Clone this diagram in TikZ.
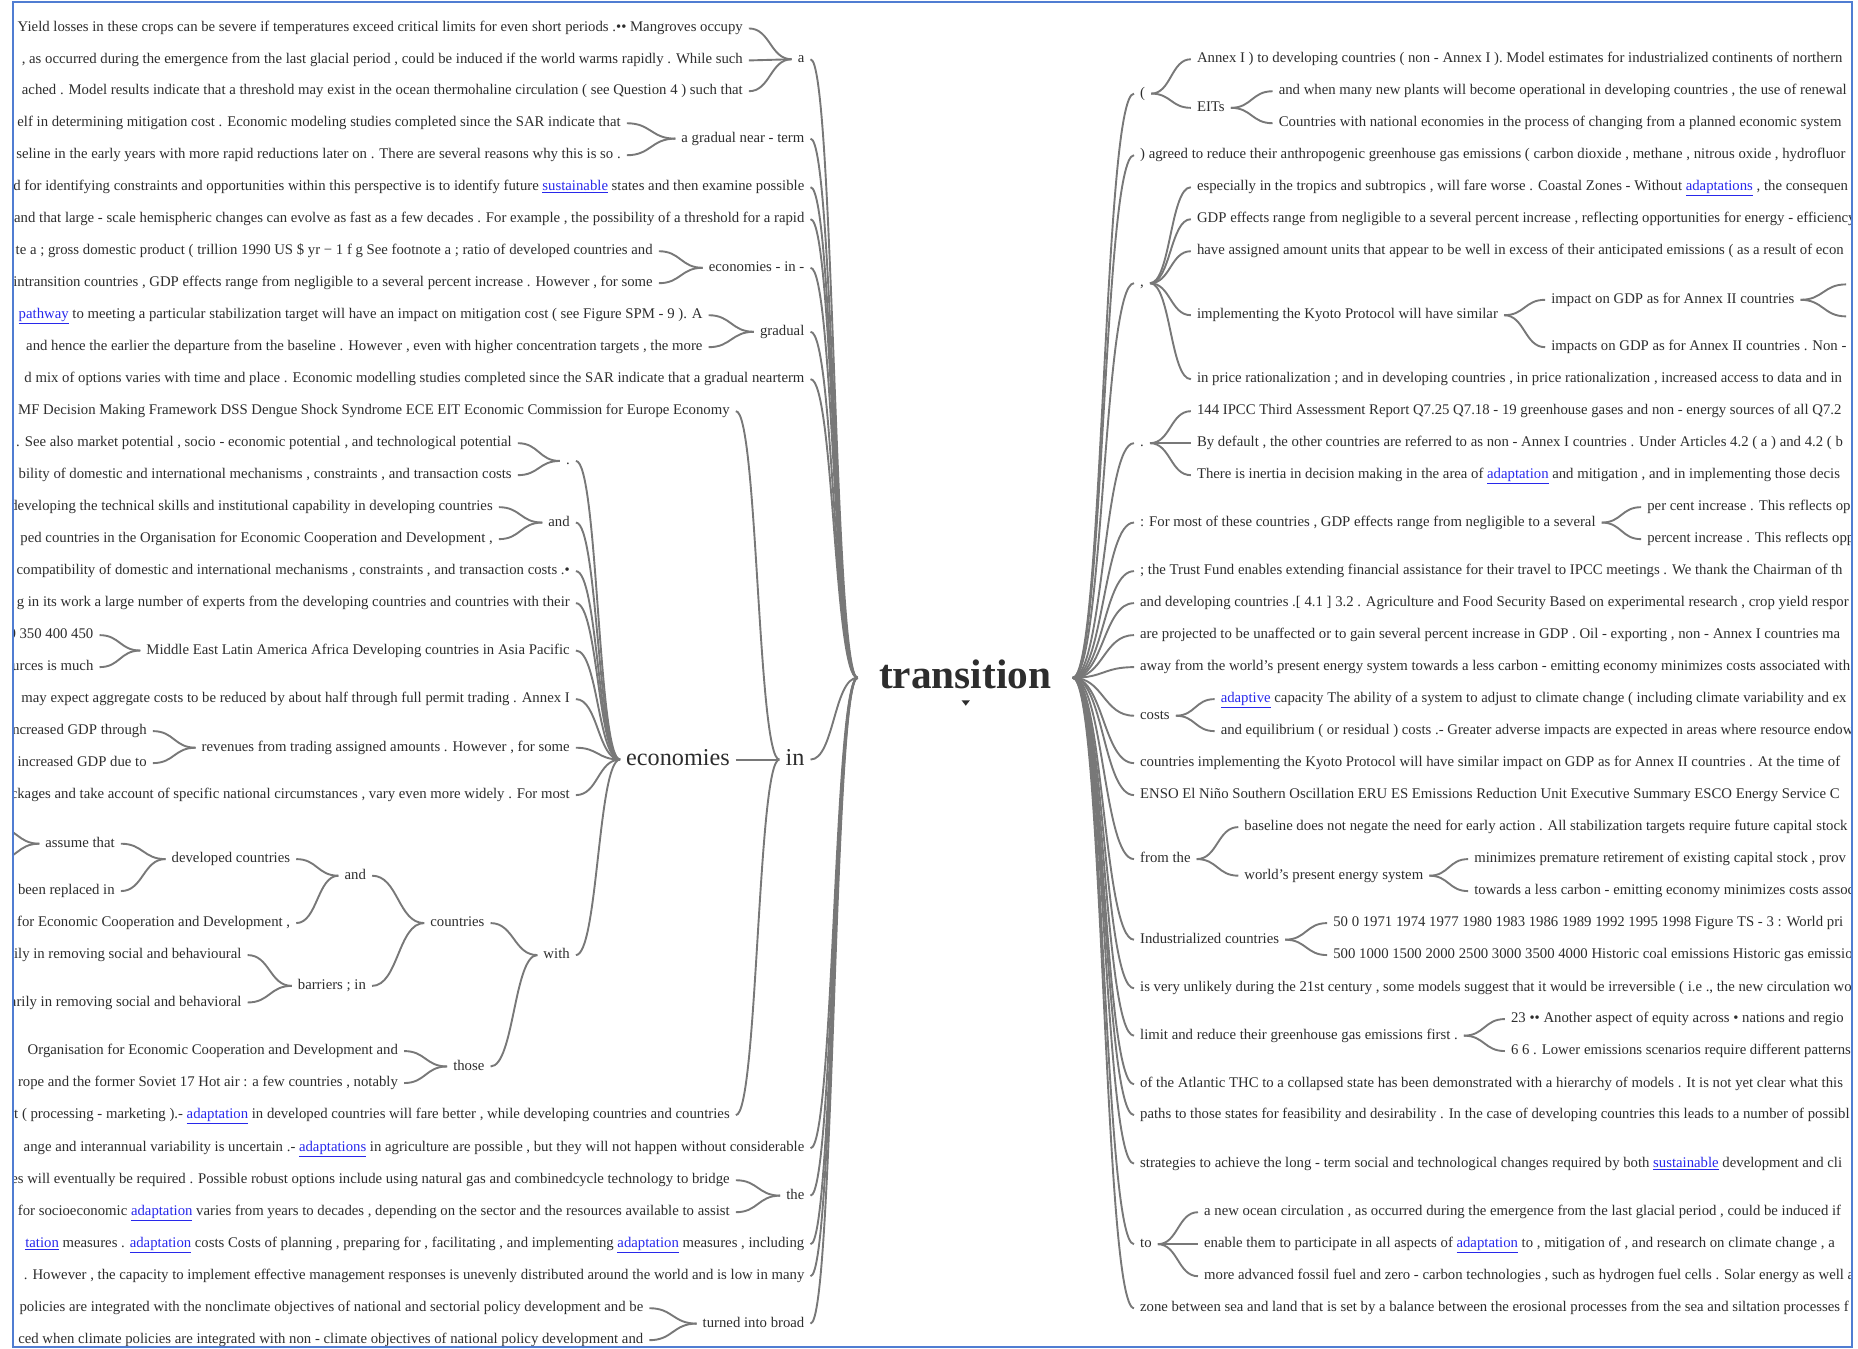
\documentclass[tikz,border=0pt]{standalone}
\usepackage{fontspec}
\setmainfont{Liberation Serif}
\usetikzlibrary{calc}
\definecolor{txt}{RGB}{45,45,45}
\definecolor{linkgray}{RGB}{120,120,120}
\definecolor{hyper}{RGB}{40,40,235}
\definecolor{framec}{RGB}{80,125,210}
% hyperlinked word
\newcommand\hw[1]{\textcolor{hyper}{\underline{#1}}}
% word-tree connector: horizontal tangents at both ends, bend at mid x
\newcommand\wlink[2]{\draw[edge line] let \p1=(#1), \p2=(#2) in (\p1) .. controls ({0.5*(\x1+\x2)},\y1) and ({0.5*(\x1+\x2)},\y2) .. (\p2);}
\tikzset{
  word/.style={font=\fontsize{12.5}{14}\selectfont, text=txt, inner xsep=5bp, inner ysep=0bp, text height=8.6bp, text depth=2.6bp},
  lw/.style={word, anchor=east},
  rw/.style={word, anchor=west},
  big/.style={font=\fontsize{20.5}{24}\selectfont, text=txt, inner xsep=5bp, inner ysep=0bp, text height=14.4bp, text depth=4.1bp, anchor=east},
  rootword/.style={font=\fontsize{35}{40}\selectfont\bfseries, text=txt, inner xsep=18bp, inner ysep=0bp, text height=24.5bp, text depth=7bp},
  edge line/.style={draw=linkgray, line width=1.6bp},
  borderline/.style={draw=framec, line width=1.5bp}
}
\begin{document}
\begin{tikzpicture}[x=1bp,y=-1bp]
\useasboundingbox (0,0) rectangle (1568,1138);
\begin{scope}
\clip (11,1.5) rectangle (1563,1136.5);

% ---------- root ----------
\node[rootword] (tr) at (814.5,572) {transition};
\fill[txt] (811.5,591) -- (818.5,591) -- (815,595.5) -- cycle;

% ---------- left branch: depth 1 ----------
\node[lw] (a) at (684,50) {a};
\node[lw] (agnt) at (684,117) {a gradual near - term};
\node[lw] (l6) at (684,158) {d for identifying constraints and opportunities within this perspective is to identify future \hw{sustainable} states and then examine possible};
\node[lw] (l7) at (684,185) {and that large - scale hemispheric changes can evolve as fast as a few decades . For example , the possibility of a threshold for a rapid};
\node[lw] (eii) at (684,226) {economies - in -};
\node[lw] (grad) at (684,280) {gradual};
\node[lw] (l12) at (684,320) {d mix of options varies with time and place . Economic modelling studies completed since the SAR indicate that a gradual nearterm};
\node[big] (in) at (684,641) {in};
\node[lw] (l28) at (684,969) {ange and interannual variability is uncertain .- \hw{adaptations} in agriculture are possible , but they will not happen without considerable};
\node[lw] (the) at (684,1009) {the};
\node[lw] (l31) at (684,1050) {\hw{tation} measures . \hw{adaptation} costs Costs of planning , preparing for , facilitating , and implementing \hw{adaptation} measures , including};
\node[lw] (l32) at (684,1077) {. However , the capacity to implement effective management responses is unevenly distributed around the world and is low in many};
\node[lw] (tib) at (684,1117) {turned into broad};

% ---------- left branch: deeper ----------
\node[lw] (l1) at (632,24) {. Yield losses in these crops can be severe if temperatures exceed critical limits for even short periods .•• Mangroves occupy};
\node[lw] (l2) at (632,51) {, as occurred during the emergence from the last glacial period , could be induced if the world warms rapidly . While such};
\node[lw] (l3) at (632,77) {ached . Model results indicate that a threshold may exist in the ocean thermohaline circulation ( see Question 4 ) such that};
\node[lw] (l4) at (529,104) {elf in determining mitigation cost . Economic modeling studies completed since the SAR indicate that};
\node[lw] (l5) at (529,131) {seline in the early years with more rapid reductions later on . There are several reasons why this is so .};
\node[lw] (l8) at (556,212) {te a ; gross domestic product ( trillion 1990 US \$ yr − 1 f g See footnote a ; ratio of developed countries and};
\node[lw] (l9) at (556,239) {intransition countries , GDP effects range from negligible to a several percent increase . However , for some};
\node[lw] (l10) at (598,266) {\hw{pathway} to meeting a particular stabilization target will have an impact on mitigation cost ( see Figure SPM - 9 ). A};
\node[lw] (l11) at (598,293) {and hence the earlier the departure from the baseline . However , even with higher concentration targets , the more};
\node[lw] (l13) at (621,347) {MF Decision Making Framework DSS Dengue Shock Syndrome ECE EIT Economic Commission for Europe Economy};
\node[big] (econ) at (621,641) {economies};
\node[lw] (l27) at (621,941) {t ( processing - marketing ).- \hw{adaptation} in developed countries will fare better , while developing countries and countries};

\node[lw] (dot) at (486,389) {.};
\node[lw] (l14) at (437,374) {. See also market potential , socio - economic potential , and technological potential};
\node[lw] (l15) at (437,401) {bility of domestic and international mechanisms , constraints , and transaction costs};
\node[lw] (and1) at (486,441) {and};
\node[lw] (l16) at (421,428) {developing the technical skills and institutional capability in developing countries};
\node[lw] (l17) at (421,455) {ped countries in the Organisation for Economic Cooperation and Development ,};
\node[lw] (l18) at (486,482) {compatibility of domestic and international mechanisms , constraints , and transaction costs .•};
\node[lw] (l19) at (486,509) {g in its work a large number of experts from the developing countries and countries with their};
\node[lw] (mea) at (486,549) {Middle East Latin America Africa Developing countries in Asia Pacific};
\node[lw] (l20) at (84,536) {0 350 400 450};
\node[lw] (l21) at (84,563) {urces is much};
\node[lw] (l22) at (486,590) {may expect aggregate costs to be reduced by about half through full permit trading . Annex I};
\node[lw] (rev) at (486,631) {revenues from trading assigned amounts . However , for some};
\node[lw] (l23) at (129,617) {ncreased GDP through};
\node[lw] (l24) at (129,644) {increased GDP due to};
\node[lw] (l25) at (486,671) {ckages and take account of specific national circumstances , vary even more widely . For most};
\node[lw] (with) at (486,806) {with};
\node[lw] (ctry) at (414,779) {countries};
\node[lw] (those) at (414,900) {those};
\node[lw] (and2) at (314,739) {and};
\node[lw] (barr) at (314,832) {barriers ; in};
\node[lw] (devc) at (250,725) {developed countries};
\node[lw] (oecd1) at (250,779) {for Economic Cooperation and Development ,};
\node[lw] (assu) at (102,712) {assume that};
\node[lw] (been) at (102,752) {been replaced in};
\coordinate (assuA) at (-4,698);
\coordinate (assuB) at (-4,726);
\node[lw] (beh1) at (209,806) {ily in removing social and behavioural};
\node[lw] (beh2) at (209,846) {arily in removing social and behavioral};
\node[lw] (oecd2) at (341,887) {Organisation for Economic Cooperation and Development and};
\node[lw] (sov) at (341,914) {rope and the former Soviet 17 Hot air : a few countries , notably};
\node[lw] (l29) at (621,996) {es will eventually be required . Possible robust options include using natural gas and combinedcycle technology to bridge};
\node[lw] (l30) at (621,1023) {for socioeconomic \hw{adaptation} varies from years to decades , depending on the sector and the resources available to assist};
\node[lw] (l33) at (548,1104) {policies are integrated with the nonclimate objectives of national and sectorial policy development and be};
\node[lw] (l34) at (548,1131) {ced when climate policies are integrated with non - climate objectives of national policy development and};

% ---------- left connectors ----------
\foreach \c in {a,agnt,l6,l7,eii,grad,l12,in,l28,the,l31,l32,tib} {\wlink{\c.east}{tr.west}}
\foreach \c in {l1,l2,l3} {\wlink{\c.east}{a.west}}
\foreach \c in {l4,l5} {\wlink{\c.east}{agnt.west}}
\foreach \c in {l8,l9} {\wlink{\c.east}{eii.west}}
\foreach \c in {l10,l11} {\wlink{\c.east}{grad.west}}
\foreach \c in {l13,econ,l27} {\wlink{\c.east}{in.west}}
\foreach \c in {dot,and1,l18,l19,mea,l22,rev,l25,with} {\wlink{\c.east}{econ.west}}
\foreach \c in {l14,l15} {\wlink{\c.east}{dot.west}}
\foreach \c in {l16,l17} {\wlink{\c.east}{and1.west}}
\foreach \c in {l20,l21} {\wlink{\c.east}{mea.west}}
\foreach \c in {l23,l24} {\wlink{\c.east}{rev.west}}
\foreach \c in {ctry,those} {\wlink{\c.east}{with.west}}
\foreach \c in {and2,barr} {\wlink{\c.east}{ctry.west}}
\foreach \c in {devc,oecd1} {\wlink{\c.east}{and2.west}}
\foreach \c in {assu,been} {\wlink{\c.east}{devc.west}}
\foreach \c in {assuA,assuB} {\wlink{\c}{assu.west}}
\foreach \c in {beh1,beh2} {\wlink{\c.east}{barr.west}}
\foreach \c in {oecd2,sov} {\wlink{\c.east}{those.west}}
\foreach \c in {l29,l30} {\wlink{\c.east}{the.west}}
\foreach \c in {l33,l34} {\wlink{\c.east}{tib.west}}

% ---------- right branch ----------
\node[rw] (par) at (957,79) {(};
\node[rw] (annex) at (1005,50) {Annex I ) to developing countries ( non - Annex I ). Model estimates for industrialized continents of northern};
\node[rw] (eits) at (1005,91) {EITs};
\node[rw] (plants) at (1074,77) {and when many new plants will become operational in developing countries , the use of renewal};
\node[rw] (cwne) at (1074,104) {Countries with national economies in the process of changing from a planned economic system};
\node[rw] (agr) at (957,131) {) agreed to reduce their anthropogenic greenhouse gas emissions ( carbon dioxide , methane , nitrous oxide , hydrofluor};
\node[rw] (comma) at (957,239) {,};
\node[rw] (esp) at (1005,158) {especially in the tropics and subtropics , will fare worse . Coastal Zones - Without \hw{adaptations} , the consequen};
\node[rw] (gdp) at (1005,185) {GDP effects range from negligible to a several percent increase , reflecting opportunities for energy - efficiency};
\node[rw] (hav) at (1005,212) {have assigned amount units that appear to be well in excess of their anticipated emissions ( as a result of econ};
\node[rw] (kyo) at (1005,266) {implementing the Kyoto Protocol will have similar};
\node[rw] (imp1) at (1304,253) {impact on GDP as for Annex II countries};
\node[rw] (imp2) at (1304,293) {impacts on GDP as for Annex II countries . Non -};
\coordinate (impA) at (1558,240);
\coordinate (impB) at (1558,267);
\node[rw] (price) at (1005,320) {in price rationalization ; and in developing countries , in price rationalization , increased access to data and in};
\node[rw] (dotr) at (957,374) {.};
\node[rw] (ipcc) at (1005,347) {144 IPCC Third Assessment Report Q7.25 Q7.18 - 19 greenhouse gases and non - energy sources of all Q7.2};
\node[rw] (bydef) at (1005,374) {By default , the other countries are referred to as non - Annex I countries . Under Articles 4.2 ( a ) and 4.2 ( b};
\node[rw] (inertia) at (1005,401) {There is inertia in decision making in the area of \hw{adaptation} and mitigation , and in implementing those decis};
\node[rw] (fmost) at (957,441) {: For most of these countries , GDP effects range from negligible to a several};
\node[rw] (pc1) at (1385,428) {per cent increase . This reflects op};
\node[rw] (pc2) at (1385,455) {percent increase . This reflects opp};
\node[rw] (trust) at (957,482) {; the Trust Fund enables extending financial assistance for their travel to IPCC meetings . We thank the Chairman of th};
\node[rw] (anddev) at (957,509) {and developing countries .[ 4.1 ] 3.2 . Agriculture and Food Security Based on experimental research , crop yield respor};
\node[rw] (proj) at (957,536) {are projected to be unaffected or to gain several percent increase in GDP . Oil - exporting , non - Annex I countries ma};
\node[rw] (away) at (957,563) {away from the world’s present energy system towards a less carbon - emitting economy minimizes costs associated with};
\node[rw] (costs) at (957,604) {costs};
\node[rw] (adcap) at (1025,590) {\hw{adaptive} capacity The ability of a system to adjust to climate change ( including climate variability and ex};
\node[rw] (equil) at (1025,617) {and equilibrium ( or residual ) costs .- Greater adverse impacts are expected in areas where resource endow};
\node[rw] (cimp) at (957,644) {countries implementing the Kyoto Protocol will have similar impact on GDP as for Annex II countries . At the time of};
\node[rw] (enso) at (957,671) {ENSO El Niño Southern Oscillation ERU ES Emissions Reduction Unit Executive Summary ESCO Energy Service C};
\node[rw] (fromthe) at (957,725) {from the};
\node[rw] (base) at (1045,698) {baseline does not negate the need for early action . All stabilization targets require future capital stock};
\node[rw] (wpes) at (1045,739) {world’s present energy system};
\node[rw] (minim) at (1239,725) {minimizes premature retirement of existing capital stock , prov};
\node[rw] (tow) at (1239,752) {towards a less carbon - emitting economy minimizes costs assoc};
\node[rw] (ind) at (957,793) {Industrialized countries};
\node[rw] (n50) at (1120,779) {50 0 1971 1974 1977 1980 1983 1986 1989 1992 1995 1998 Figure TS - 3 : World pri};
\node[rw] (n500) at (1120,806) {500 1000 1500 2000 2500 3000 3500 4000 Historic coal emissions Historic gas emissio};
\node[rw] (unl) at (957,834) {is very unlikely during the 21st century , some models suggest that it would be irreversible ( i.e ., the new circulation wo};
\node[rw] (limit) at (957,874) {limit and reduce their greenhouse gas emissions first .};
\node[rw] (n23) at (1270,860) {23 •• Another aspect of equity across • nations and regio};
\node[rw] (n66) at (1270,887) {6 6 . Lower emissions scenarios require different patterns};
\node[rw] (atl) at (957,915) {of the Atlantic THC to a collapsed state has been demonstrated with a hierarchy of models . It is not yet clear what this};
\node[rw] (paths) at (957,941) {paths to those states for feasibility and desirability . In the case of developing countries this leads to a number of possibl};
\node[rw] (strat) at (957,982) {strategies to achieve the long - term social and technological changes required by both \hw{sustainable} development and cli};
\node[rw] (to) at (957,1050) {to};
\node[rw] (ocean) at (1011,1023) {a new ocean circulation , as occurred during the emergence from the last glacial period , could be induced if};
\node[rw] (enable) at (1011,1050) {enable them to participate in all aspects of \hw{adaptation} to , mitigation of , and research on climate change , a};
\node[rw] (more) at (1011,1077) {more advanced fossil fuel and zero - carbon technologies , such as hydrogen fuel cells . Solar energy as well a};
\node[rw] (zone) at (957,1104) {zone between sea and land that is set by a balance between the erosional processes from the sea and siltation processes f};

% ---------- right connectors ----------
\foreach \c in {par,agr,comma,dotr,fmost,trust,anddev,proj,away,costs,cimp,enso,fromthe,ind,unl,limit,atl,paths,strat,to,zone} {\wlink{tr.east}{\c.west}}
\foreach \c in {annex,eits} {\wlink{par.east}{\c.west}}
\foreach \c in {plants,cwne} {\wlink{eits.east}{\c.west}}
\foreach \c in {esp,gdp,hav,kyo,price} {\wlink{comma.east}{\c.west}}
\foreach \c in {imp1,imp2} {\wlink{kyo.east}{\c.west}}
\foreach \c in {impA,impB} {\wlink{imp1.east}{\c}}
\foreach \c in {ipcc,bydef,inertia} {\wlink{dotr.east}{\c.west}}
\foreach \c in {pc1,pc2} {\wlink{fmost.east}{\c.west}}
\foreach \c in {adcap,equil} {\wlink{costs.east}{\c.west}}
\foreach \c in {base,wpes} {\wlink{fromthe.east}{\c.west}}
\foreach \c in {minim,tow} {\wlink{wpes.east}{\c.west}}
\foreach \c in {n50,n500} {\wlink{ind.east}{\c.west}}
\foreach \c in {n23,n66} {\wlink{limit.east}{\c.west}}
\foreach \c in {ocean,enable,more} {\wlink{to.east}{\c.west}}
\wlink{econ.east}{in.west}
\end{scope}
% frame
\draw[borderline] (11,1.5) rectangle (1563,1136.5);
\end{tikzpicture}
\end{document}
